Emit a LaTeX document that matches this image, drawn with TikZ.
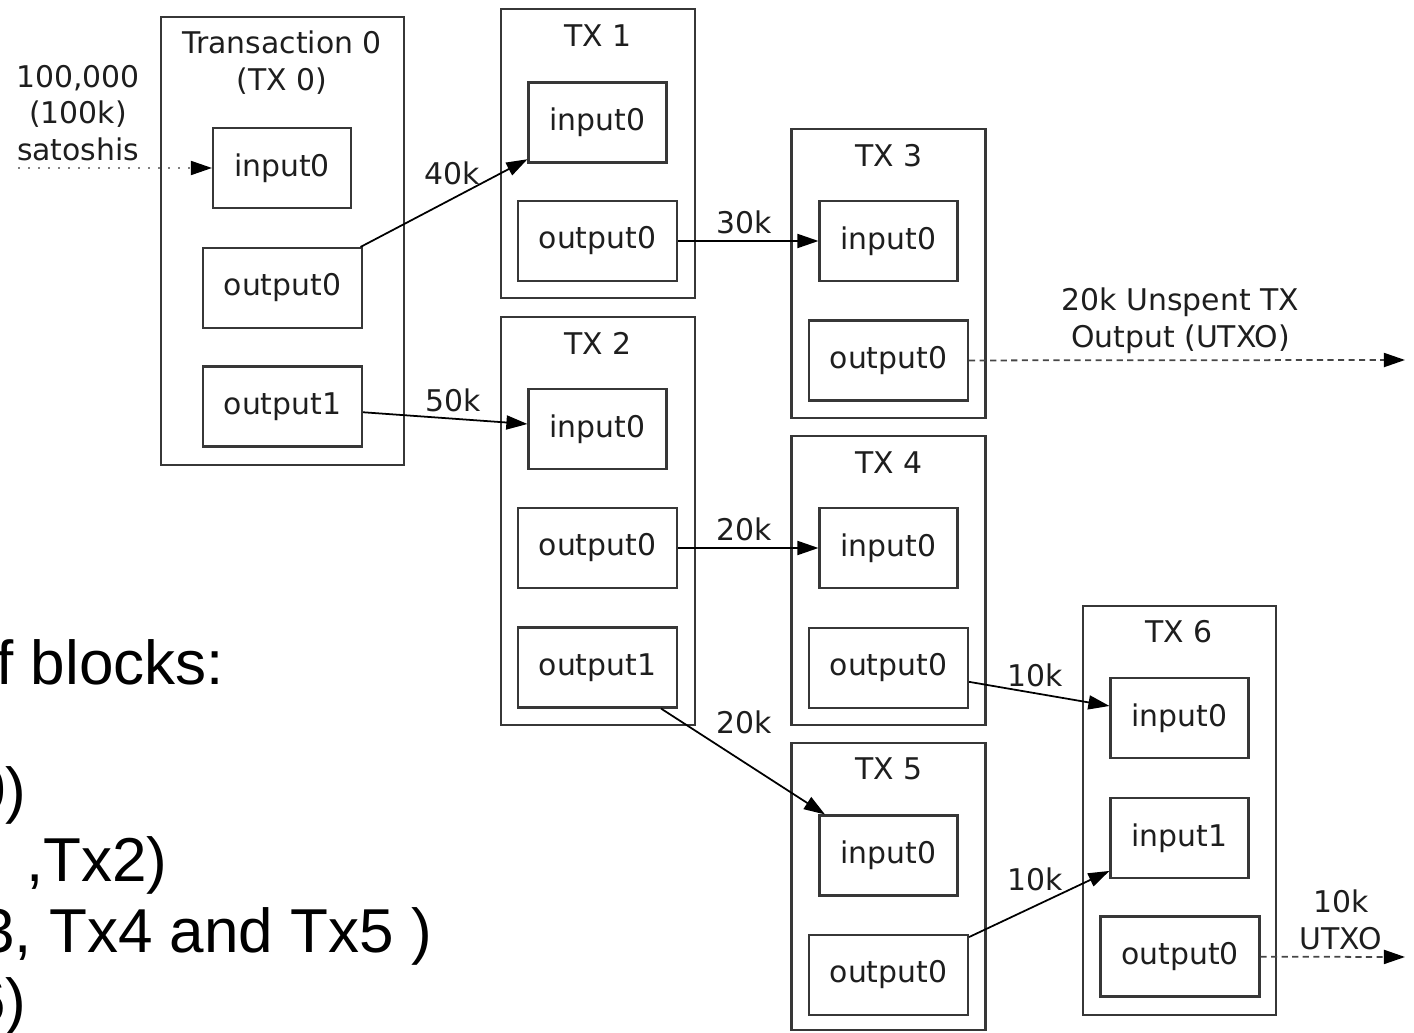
\documentclass[tikz,border=0pt]{standalone}
\usepackage{fontspec}
\setmainfont{DejaVu Sans}
\newfontfamily\listfont{Liberation Sans}
\usepackage{tikz}
\usetikzlibrary{quotes}
\usetikzlibrary{arrows.meta}
\definecolor{boxline}{RGB}{55,55,55}
\definecolor{inktext}{RGB}{30,30,30}
\definecolor{dashgray}{RGB}{70,70,70}

\begin{document}
\begin{tikzpicture}[x=0.02cm, y=-0.02cm,
    every node/.style={font=\fontsize{17}{21}\selectfont, text=inktext},
    every edge quotes/.style={font=\fontsize{17}{21}\selectfont, text=inktext, align=center},
    txbox/.style={draw=boxline, line width=1.2pt},
    inbox/.style={draw=boxline, line width=1.2pt, minimum width=2.76cm, minimum height=1.6cm},
    outbox/.style={draw=boxline, line width=1.2pt, minimum width=3.18cm, minimum height=1.6cm},
    link/.style={draw=black, line width=1pt, -{Triangle[length=12pt,width=8pt,black]}},
    utxo/.style={link, draw=dashgray, dash pattern=on 3.5pt off 2.5pt},
    feed/.style={link, draw=gray, dash pattern=on 1.2pt off 4.5pt},
    listtext/.style={font=\listfont\fontsize{35.3}{40}\selectfont, text=black, anchor=base west, inner sep=0pt}]

    \useasboundingbox (0,0) rectangle (1414,1033);
    \clip (0,0) rectangle (1414,1033);

    \node[txbox, minimum width=4.86cm, minimum height=8.96cm] (tx0) at (282.5,241)   {};
    \node[txbox, minimum width=3.88cm, minimum height=5.78cm] (tx1) at (598,153.5)   {};
    \node[txbox, minimum width=3.88cm, minimum height=8.16cm] (tx2) at (598,521)     {};
    \node[txbox, minimum width=3.88cm, minimum height=5.78cm] (tx3) at (888.5,273.5) {};
    \node[txbox, minimum width=3.88cm, minimum height=5.78cm] (tx4) at (888.5,580.5) {};
    \node[txbox, minimum width=3.88cm, minimum height=5.74cm] (tx5) at (888.5,886.5) {};
    \node[txbox, minimum width=3.86cm, minimum height=8.18cm] (tx6) at (1179.5,810.5) {};

    \node[align=center] (tx0title) at (282,63)  {Transaction 0\\(TX 0)};
    \node               (tx1title) at (598,36)  {TX 1};
    \node               (tx2title) at (598,343) {TX 2};
    \node               (tx3title) at (889,156) {TX 3};
    \node               (tx4title) at (889,463) {TX 4};
    \node               (tx5title) at (889,769) {TX 5};
    \node               (tx6title) at (1179,632) {TX 6};

    \node[inbox]  (tx0in0)  at (282,168)      {input0};
    \node[outbox] (tx0out0) at (282.5,288)    {output0};
    \node[outbox] (tx0out1) at (282.5,406.5)  {output1};
    \node[inbox]  (tx1in0)  at (597.5,122.5)  {input0};
    \node[outbox] (tx1out0) at (597.5,241)    {output0};
    \node[inbox]  (tx2in0)  at (597.5,429)    {input0};
    \node[outbox] (tx2out0) at (597.5,548)    {output0};
    \node[outbox] (tx2out1) at (597.5,667.5)  {output1};
    \node[inbox]  (tx3in0)  at (888.5,241)    {input0};
    \node[outbox] (tx3out0) at (888.5,360.5)  {output0};
    \node[inbox]  (tx4in0)  at (888.5,548)    {input0};
    \node[outbox] (tx4out0) at (888.5,668)    {output0};
    \node[inbox]  (tx5in0)  at (888.5,855.5)  {input0};
    \node[outbox] (tx5out0) at (888.5,975)    {output0};
    \node[inbox]  (tx6in0)  at (1179.5,718)   {input0};
    \node[inbox]  (tx6in1)  at (1179.5,838)   {input1};
    \node[outbox] (tx6out0) at (1180,956.5)   {output0};

    \coordinate (coinbase) at (18,168);
    \coordinate (utxo0) at (1405,360);
    \coordinate (utxo1) at (1405,957);

    \draw (coinbase) edge["{100,000}\\(100k)\\satoshis" {above, pos=0.31}, feed] (tx0in0);
    \draw (tx0out0) edge["40k" {above=4pt, pos=0.55}, link] (tx1in0);
    \draw (tx0out1) edge["50k" {above, pos=0.55}, link] (tx2in0);
    \draw (tx1out0) edge["30k" {above, pos=0.47}, link] (tx3in0);
    \draw (tx2out0) edge["20k" {above, pos=0.47}, link] (tx4in0);
    \draw (tx2out1) edge["20k" {above right, pos=0.3}, link] (tx5in0);
    \draw (tx4out0) edge["10k" {above, pos=0.47}, link] (tx6in0);
    \draw (tx5out0) edge["10k" {above=5pt, pos=0.47}, link] (tx6in1);
    \draw (tx3out0) edge["20k Unspent TX\\Output (UTXO)" {above, pos=0.485}, utxo] (utxo0);
    \draw (tx6out0) edge["10k\\UTXO" {above, pos=0.555}, utxo] (utxo1);

    \node[listtext] (blocks) at (-4,685)   {f blocks:};
    \node[listtext] (blk0)   at (-29,811)  {0)};
    \node[listtext] (blk1)   at (26,881)   {,Tx2)};
    \node[listtext] (blk2)   at (-20,952)  {3, Tx4 and Tx5 )};
    \node[listtext] (blk3)   at (-29,1022) {6)};
\end{tikzpicture}
\end{document}
